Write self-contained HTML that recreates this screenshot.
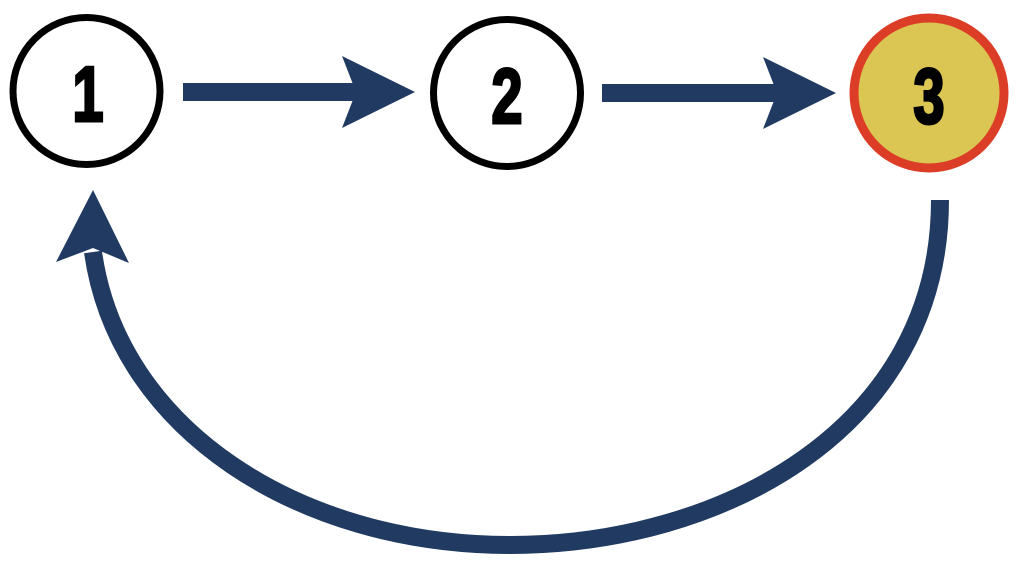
<!DOCTYPE html>
<html><head><style>
html,body{margin:0;padding:0;background:#fff;width:1024px;height:572px;overflow:hidden}
text{font-family:"Liberation Sans",sans-serif;font-weight:bold;font-size:78px;stroke:#000;stroke-width:3}
</style></head><body>
<svg width="1024" height="572" viewBox="0 0 1024 572">
<circle cx="86.5" cy="91" r="73.5" fill="#fff" stroke="#000" stroke-width="7"/>
<circle cx="507" cy="93" r="73.5" fill="#fff" stroke="#000" stroke-width="7"/>
<circle cx="929" cy="93" r="75" fill="#dbc653" stroke="#dc3d26" stroke-width="9"/>
<g transform="translate(88,121) scale(0.72,1)"><text text-anchor="middle">1</text></g>
<g transform="translate(507,123) scale(0.72,1)"><text text-anchor="middle">2</text></g>
<g transform="translate(929,123) scale(0.72,1)"><text text-anchor="middle">3</text></g>
<g fill="#203a62">
<rect x="183" y="83" width="175" height="18"/>
<polygon points="342,56 415,92 342,128 356,92"/>
<rect x="602" y="84" width="175" height="18"/>
<polygon points="763,57 836,93 763,129 777,93"/>
<polygon points="93,190 129,263 93,248 56,262"/>
</g>
<path d="M940,200 C940,430 720,545 510,545 C300,545 118,430 93,252" fill="none" stroke="#203a62" stroke-width="18"/>
</svg>
</body></html>
